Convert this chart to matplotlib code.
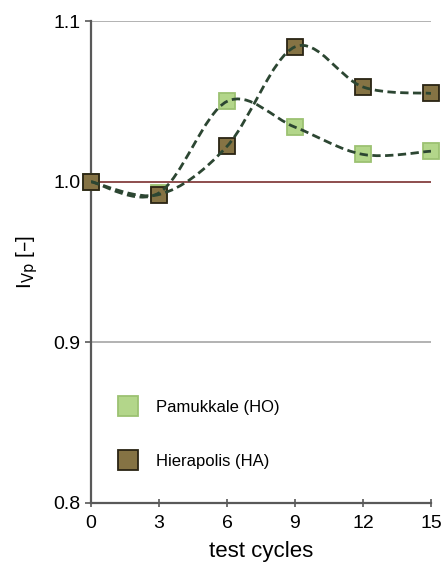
import numpy as np
import matplotlib
matplotlib.use("Agg")
import matplotlib.pyplot as plt
from matplotlib.path import Path
from matplotlib.patches import PathPatch

cycles = [0, 3, 6, 9, 12, 15]
pamukkale = [1.000, 0.993, 1.050, 1.034, 1.017, 1.019]
hierapolis = [1.000, 0.992, 1.022, 1.084, 1.059, 1.055]
labels = ['Pamukkale (HO)', 'Hierapolis (HA)']


def smooth_path(x, y, k=1 / 6):
    """Excel-like smoothed line: Catmull-Rom segments as cubic Bezier curves."""
    p = np.column_stack([x, y]).astype(float)
    ext = np.vstack([p[0], p, p[-1]])
    verts, codes = [p[0]], [Path.MOVETO]
    for i in range(1, len(p)):
        p0, p1, p2, p3 = ext[i - 1], ext[i], ext[i + 1], ext[i + 2]
        verts += [p1 + (p2 - p0) * k, p2 - (p3 - p1) * k, p2]
        codes += [Path.CURVE4] * 3
    return Path(verts, codes)


plt.rcParams['font.family'] = ['Liberation Sans', 'DejaVu Sans']
fig = plt.figure(figsize=(4.48, 5.72), dpi=100)
ax = fig.add_axes([0.203, 0.121, 0.759, 0.842])

for yv in (0.9, 1.1):
    ax.axhline(yv, color='#a6a6a6', lw=1.2, zorder=1)
ax.axhline(1.0, color='#7a2f2f', lw=1.2, zorder=1)

styles = [dict(mfc='#b3d68a', mec='#9cc272'), dict(mfc='#857344', mec='#2a2414')]
for vals, lab, st in zip((pamukkale, hierapolis), labels, styles):
    ax.plot(cycles, vals, ls='none', marker='s', ms=11.5, mew=1.3,
            label=lab, zorder=3, clip_on=False, **st)
    ax.add_patch(PathPatch(smooth_path(cycles, vals), fill=False,
                           ec='#2c4632', lw=2.0, ls=(0, (3, 1.6)), zorder=4))

ax.set_xlim(0, 15)
ax.set_ylim(0.8, 1.1)
ax.set_xticks(cycles)
ax.set_yticks([0.8, 0.9, 1.0, 1.1])
ax.set_yticklabels(['0.8', '0.9', '1.0', '1.1'])
for s in ('top', 'right'):
    ax.spines[s].set_visible(False)
for s in ('left', 'bottom'):
    ax.spines[s].set_color('#595959')
    ax.spines[s].set_linewidth(1.6)
ax.tick_params(axis='x', direction='inout', length=6, width=1.2, color='#595959',
               labelsize=14, pad=6)
ax.tick_params(axis='y', direction='out', length=4, width=1.2, color='#595959',
               labelsize=14)
ax.set_xlabel('test cycles', fontsize=16, labelpad=6)
ax.set_ylabel(r'I$_{\mathrm{Vp}}$ [–]', fontsize=15, labelpad=10)

ax.legend(loc='lower left', bbox_to_anchor=(0.015, 0.04), frameon=False,
          fontsize=12, labelspacing=2.3, handletextpad=0.7, markerscale=1.3)

fig.savefig('out.png', dpi=100)
